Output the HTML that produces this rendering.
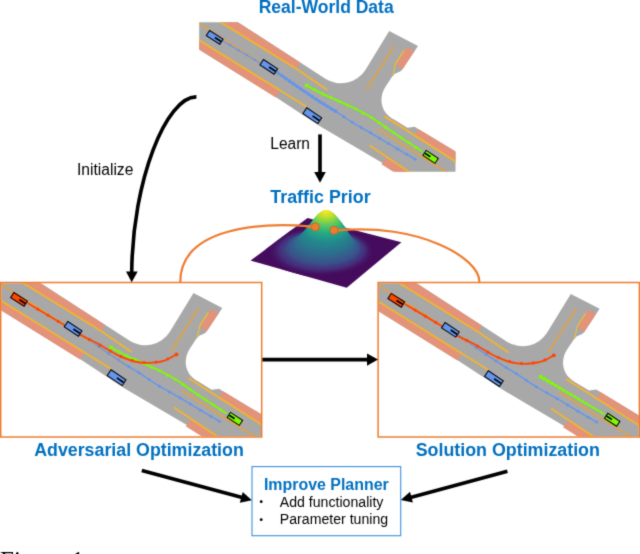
<!DOCTYPE html>
<html><head><meta charset="utf-8"><title>Figure</title>
<style>
html,body{margin:0;padding:0;background:#fff;}
body{width:640px;height:554px;overflow:hidden;font-family:"Liberation Sans",sans-serif;}
svg{display:block;}
</style></head>
<body>
<svg width="640" height="554" viewBox="0 0 640 554">
<defs>
<filter id="bl" x="0" y="0" width="640" height="554" filterUnits="userSpaceOnUse" color-interpolation-filters="sRGB"><feConvolveMatrix order="3" kernelMatrix="0.0367 0.1915 0.0367 0.1915 1.0000 0.1915 0.0367 0.1915 0.0367" divisor="1.9127" edgeMode="duplicate" preserveAlpha="true"/></filter>
<g id="mb"><path d="M190,-9 L325.8,79 A29,29 0 0 0 365.4,69.9 L389.2,31.1 L418,45.9 L402.5,69.3 L400.6,71.2 L394.9,73.7 L392.4,76.3 L385.8,86.2 C378.8,96.5 379.2,111.8 394.5,119.8 L407.4,127.7 L414.7,126.7 L418.3,128.9 L470,160.1 L470,218.2 L382.5,163.1 L320,126.2 L276,97.3 L190,44 Z" fill="#a8a8a8"/>
<path d="M200.6,9.4 L216.8,9 L300.5,62.8 L296.7,69.1 Z" fill="#e2937a"/>
<path d="M190,34.5 L280.2,90.6 L275.8,97.5 L190,44 Z" fill="#e2937a"/>
<path d="M418.3,128.9 L470,160.1 L470,170.5 L415,135.3 Z" fill="#e2937a"/>
<path d="M386.5,157.8 L438,190 L422.2,190 L381.4,164.3 Z" fill="#e2937a"/>
<path d="M406.3,46.9 L414.5,51 L402.5,69.3 L396.1,64.9 Z" fill="#e2937a"/>
<path d="M200.6,9.4 L220.8,22.2 L296.7,69.1 L327.3,89.9" fill="none" stroke="#f2b42e" stroke-width="1.8"/>
<path d="M190,34.5 L199.2,40.2 L280.2,90.6 L306.8,107" fill="none" stroke="#f2b42e" stroke-width="1.8"/>
<path d="M384.3,116.2 L455.6,161.4 L470,170.5" fill="none" stroke="#f2b42e" stroke-width="1.8"/>
<path d="M369.6,145.6 L408.9,171.8 L438,190" fill="none" stroke="#f2b42e" stroke-width="1.8"/>
<path d="M404.1,50.3 L395.5,63.6 L393,75.6" fill="none" stroke="#e9bf36" stroke-width="1.2"/>
<path d="M190,17.8 L199.2,23.7 L322,102.5" fill="none" stroke="#dfa245" stroke-width="1.7"/>
<path d="M377.5,128.8 L446,171.7 L470,186.7" fill="none" stroke="#dfa245" stroke-width="1.7"/>
<path d="M394.5,45.9 L366.6,89.5" fill="none" stroke="#dfa245" stroke-width="1.7"/></g>
<clipPath id="ct"><rect x="199.2" y="22.2" width="256.30" height="149.50"/></clipPath>
<clipPath id="cl"><rect x="197.1" y="21.19999999999999" width="259.60" height="153.10"/></clipPath>
<clipPath id="cr"><rect x="197.20000000000002" y="20.30000000000001" width="259.90" height="153.10"/></clipPath>
</defs>
<g filter="url(#bl)"><rect x="-5" y="-5" width="650" height="564" fill="#fff"/>
<g clip-path="url(#ct)"><use href="#mb"/><path d="M222.5,40.7 L260.0,63.0" fill="none" stroke="#6495ed" stroke-width="1.1"/>
<circle cx="230.2" cy="45.3" r="1.2" fill="#6495ed"/><circle cx="238.4" cy="50.2" r="1.2" fill="#6495ed"/><circle cx="246.6" cy="55.0" r="1.2" fill="#6495ed"/><circle cx="254.7" cy="59.9" r="1.2" fill="#6495ed"/>
<path d="M276.5,72.0 C280.1,74.5 290.6,82.0 297.9,87.0 C305.1,92.0 313.6,97.7 320.0,101.8 C326.4,105.9 333.3,110.0 336.0,111.6" fill="none" stroke="#6495ed" stroke-width="2.3"/>
<circle cx="278.1" cy="73.1" r="1.75" fill="#6495ed"/><circle cx="281.9" cy="75.8" r="1.75" fill="#6495ed"/><circle cx="285.7" cy="78.4" r="1.75" fill="#6495ed"/><circle cx="289.4" cy="81.1" r="1.75" fill="#6495ed"/><circle cx="293.2" cy="83.7" r="1.75" fill="#6495ed"/><circle cx="297.0" cy="86.3" r="1.75" fill="#6495ed"/><circle cx="300.8" cy="88.9" r="1.75" fill="#6495ed"/><circle cx="304.6" cy="91.5" r="1.75" fill="#6495ed"/><circle cx="308.4" cy="94.0" r="1.75" fill="#6495ed"/><circle cx="312.2" cy="96.6" r="1.75" fill="#6495ed"/><circle cx="316.1" cy="99.2" r="1.75" fill="#6495ed"/><circle cx="319.9" cy="101.7" r="1.75" fill="#6495ed"/><circle cx="323.8" cy="104.1" r="1.75" fill="#6495ed"/><circle cx="327.7" cy="106.5" r="1.75" fill="#6495ed"/><circle cx="331.7" cy="108.9" r="1.75" fill="#6495ed"/><circle cx="335.6" cy="111.3" r="1.75" fill="#6495ed"/>
<path d="M276.5,72.0 C280.1,74.5 290.6,82.0 297.9,87.0 C305.1,92.0 313.7,97.7 320.0,101.8 C326.3,105.9 330.0,107.8 335.7,111.4 C341.4,115.0 347.6,119.6 354.2,123.6 C360.8,127.6 368.5,131.6 375.3,135.6 C382.1,139.6 388.2,143.5 394.8,147.4 C401.4,151.3 411.7,157.2 415.1,159.2" fill="none" stroke="#6495ed" stroke-width="1.4"/>
<circle cx="334.7" cy="110.8" r="1.5" fill="#6495ed"/><circle cx="343.5" cy="116.6" r="1.5" fill="#6495ed"/><circle cx="352.3" cy="122.3" r="1.5" fill="#6495ed"/><circle cx="361.3" cy="127.7" r="1.5" fill="#6495ed"/><circle cx="370.5" cy="132.8" r="1.5" fill="#6495ed"/><circle cx="379.5" cy="138.2" r="1.5" fill="#6495ed"/><circle cx="388.5" cy="143.6" r="1.5" fill="#6495ed"/><circle cx="397.5" cy="149.0" r="1.5" fill="#6495ed"/><circle cx="406.6" cy="154.3" r="1.5" fill="#6495ed"/><circle cx="415.1" cy="159.2" r="1.5" fill="#6495ed"/>
<path d="M306.8,85.5 C309.0,86.7 315.1,90.2 320.0,92.6 C324.9,95.0 330.5,97.4 336.4,100.1 C342.3,102.8 349.5,105.8 355.4,108.8 C361.3,111.8 366.8,114.7 371.8,117.8 C376.9,120.9 381.0,124.1 385.7,127.3 C390.4,130.5 393.9,132.9 400.0,137.0 C406.1,141.1 418.8,149.2 422.6,151.7" fill="none" stroke="#7cfc00" stroke-width="1.8"/>
<circle cx="306.8" cy="85.5" r="1.55" fill="#7cfc00"/><circle cx="314.7" cy="89.8" r="1.55" fill="#7cfc00"/><circle cx="322.7" cy="93.9" r="1.55" fill="#7cfc00"/><circle cx="330.9" cy="97.6" r="1.55" fill="#7cfc00"/><circle cx="339.1" cy="101.3" r="1.55" fill="#7cfc00"/><circle cx="347.3" cy="105.1" r="1.55" fill="#7cfc00"/><circle cx="355.5" cy="108.8" r="1.55" fill="#7cfc00"/><circle cx="363.4" cy="113.2" r="1.55" fill="#7cfc00"/><circle cx="371.3" cy="117.5" r="1.55" fill="#7cfc00"/><circle cx="378.7" cy="122.5" r="1.55" fill="#7cfc00"/><circle cx="386.1" cy="127.6" r="1.55" fill="#7cfc00"/><circle cx="393.6" cy="132.7" r="1.55" fill="#7cfc00"/><circle cx="401.1" cy="137.7" r="1.55" fill="#7cfc00"/><circle cx="408.6" cy="142.6" r="1.55" fill="#7cfc00"/><circle cx="416.1" cy="147.5" r="1.55" fill="#7cfc00"/>
<circle cx="306.8" cy="85.5" r="2.0" fill="#7cfc00"/>
<g transform="translate(214.7,37.4) rotate(32.5)"><rect x="-8.00" y="-3.10" width="16" height="6.2" fill="#6495ed" stroke="#000" stroke-width="1"/><path d="M0.3,0 H7.50" stroke="#000" stroke-width="1.7"/></g>
<g transform="translate(268.8,66.9) rotate(33.5)"><rect x="-8.50" y="-3.20" width="17" height="6.4" fill="#6495ed" stroke="#000" stroke-width="1"/><path d="M0.3,0 H8.00" stroke="#000" stroke-width="1.7"/></g>
<g transform="translate(312.3,115.7) rotate(34)"><rect x="-9.00" y="-3.45" width="18" height="6.9" fill="#6495ed" stroke="#000" stroke-width="1"/><path d="M0.3,0 H8.50" stroke="#000" stroke-width="1.7"/></g>
<g transform="translate(430.6,156.9) rotate(213.5)"><rect x="-7.25" y="-3.00" width="14.5" height="6.0" fill="#7cfc00" stroke="#000" stroke-width="1"/><path d="M0.3,0 H6.75" stroke="#000" stroke-width="1.7"/></g></g>
<g transform="translate(-195.7,262.0)"><g clip-path="url(#cl)"><use href="#mb"/><path d="M276.5,72.0 C280.1,74.5 290.6,82.0 297.9,87.0 C305.1,92.0 313.7,97.7 320.0,101.8 C326.3,105.9 330.0,107.8 335.7,111.4 C341.4,115.0 347.6,119.6 354.2,123.6 C360.8,127.6 368.5,131.6 375.3,135.6 C382.1,139.6 388.2,143.5 394.8,147.4 C401.4,151.3 411.7,157.2 415.1,159.2" fill="none" stroke="#6495ed" stroke-width="1.4"/>
<circle cx="284.7" cy="77.7" r="1.5" fill="#6495ed"/><circle cx="294.5" cy="84.6" r="1.5" fill="#6495ed"/><circle cx="304.4" cy="91.4" r="1.5" fill="#6495ed"/><circle cx="314.4" cy="98.1" r="1.5" fill="#6495ed"/><circle cx="324.5" cy="104.5" r="1.5" fill="#6495ed"/><circle cx="334.7" cy="110.8" r="1.5" fill="#6495ed"/><circle cx="344.8" cy="117.4" r="1.5" fill="#6495ed"/><circle cx="354.8" cy="123.9" r="1.5" fill="#6495ed"/><circle cx="365.2" cy="129.9" r="1.5" fill="#6495ed"/><circle cx="375.7" cy="135.8" r="1.5" fill="#6495ed"/><circle cx="385.9" cy="142.0" r="1.5" fill="#6495ed"/><circle cx="396.2" cy="148.2" r="1.5" fill="#6495ed"/><circle cx="406.6" cy="154.3" r="1.5" fill="#6495ed"/><circle cx="415.1" cy="159.2" r="1.5" fill="#6495ed"/>
<path d="M306.8,85.5 C309.0,86.7 315.1,90.2 320.0,92.6 C324.9,95.0 330.5,97.4 336.4,100.1 C342.3,102.8 349.5,105.8 355.4,108.8 C361.3,111.8 366.8,114.7 371.8,117.8 C376.9,120.9 381.0,124.1 385.7,127.3 C390.4,130.5 393.9,132.9 400.0,137.0 C406.1,141.1 418.8,149.2 422.6,151.7" fill="none" stroke="#7cfc00" stroke-width="1.8"/>
<circle cx="306.8" cy="85.5" r="1.55" fill="#7cfc00"/><circle cx="314.7" cy="89.8" r="1.55" fill="#7cfc00"/><circle cx="322.7" cy="93.9" r="1.55" fill="#7cfc00"/><circle cx="330.9" cy="97.6" r="1.55" fill="#7cfc00"/><circle cx="339.1" cy="101.3" r="1.55" fill="#7cfc00"/><circle cx="347.3" cy="105.1" r="1.55" fill="#7cfc00"/><circle cx="355.5" cy="108.8" r="1.55" fill="#7cfc00"/><circle cx="363.4" cy="113.2" r="1.55" fill="#7cfc00"/><circle cx="371.3" cy="117.5" r="1.55" fill="#7cfc00"/><circle cx="378.7" cy="122.5" r="1.55" fill="#7cfc00"/><circle cx="386.1" cy="127.6" r="1.55" fill="#7cfc00"/><circle cx="393.6" cy="132.7" r="1.55" fill="#7cfc00"/><circle cx="401.1" cy="137.7" r="1.55" fill="#7cfc00"/><circle cx="408.6" cy="142.6" r="1.55" fill="#7cfc00"/><circle cx="416.1" cy="147.5" r="1.55" fill="#7cfc00"/>
<circle cx="306.8" cy="85.5" r="2.0" fill="#7cfc00"/>
<path d="M223.2,41.0 C229.3,44.7 250.9,57.5 260.0,63.0 C269.1,68.5 272.4,70.8 277.7,73.8 C283.0,76.8 286.2,77.6 292.0,80.8 C297.8,84.0 307.2,90.1 312.7,92.9 C318.2,95.8 321.0,96.6 324.8,97.9 C328.6,99.2 331.7,100.0 335.7,100.5 C339.7,101.0 344.6,101.0 348.8,100.6 C353.0,100.2 357.0,99.7 360.9,98.3 C364.8,96.9 370.3,93.4 372.2,92.4" fill="none" stroke="#ff4500" stroke-width="1.8"/>
<circle cx="233.5" cy="47.2" r="1.6" fill="#ff4500"/><circle cx="243.8" cy="53.3" r="1.6" fill="#ff4500"/><circle cx="254.1" cy="59.5" r="1.6" fill="#ff4500"/><circle cx="264.4" cy="65.7" r="1.6" fill="#ff4500"/><circle cx="274.6" cy="71.9" r="1.6" fill="#ff4500"/><circle cx="285.2" cy="77.5" r="1.6" fill="#ff4500"/><circle cx="295.9" cy="83.1" r="1.6" fill="#ff4500"/><circle cx="306.2" cy="89.1" r="1.6" fill="#ff4500"/><circle cx="316.9" cy="94.6" r="1.6" fill="#ff4500"/><circle cx="328.1" cy="98.7" r="1.6" fill="#ff4500"/><circle cx="339.9" cy="100.5" r="1.6" fill="#ff4500"/><circle cx="351.8" cy="100.0" r="1.6" fill="#ff4500"/><circle cx="363.4" cy="97.0" r="1.6" fill="#ff4500"/>
<circle cx="372.2" cy="92.4" r="1.9" fill="#ff4500"/>
<g transform="translate(214.7,37.4) rotate(32.5)"><rect x="-8.00" y="-3.10" width="16" height="6.2" fill="#ff4500" stroke="#000" stroke-width="1"/><path d="M0.3,0 H7.50" stroke="#000" stroke-width="1.7"/></g>
<g transform="translate(268.8,66.9) rotate(33.5)"><rect x="-8.50" y="-3.20" width="17" height="6.4" fill="#6495ed" stroke="#000" stroke-width="1"/><path d="M0.3,0 H8.00" stroke="#000" stroke-width="1.7"/></g>
<g transform="translate(312.3,115.7) rotate(34)"><rect x="-9.00" y="-3.45" width="18" height="6.9" fill="#6495ed" stroke="#000" stroke-width="1"/><path d="M0.3,0 H8.50" stroke="#000" stroke-width="1.7"/></g>
<g transform="translate(430.6,156.9) rotate(213.5)"><rect x="-7.25" y="-3.00" width="14.5" height="6.0" fill="#7cfc00" stroke="#000" stroke-width="1"/><path d="M0.3,0 H6.75" stroke="#000" stroke-width="1.7"/></g></g></g>
<g transform="translate(181.6,262.9)"><g clip-path="url(#cr)"><use href="#mb"/><path d="M276.5,72.0 C280.1,74.5 290.6,82.0 297.9,87.0 C305.1,92.0 313.7,97.7 320.0,101.8 C326.3,105.9 330.0,107.8 335.7,111.4 C341.4,115.0 347.6,119.6 354.2,123.6 C360.8,127.6 368.5,131.6 375.3,135.6 C382.1,139.6 388.2,143.5 394.8,147.4 C401.4,151.3 411.7,157.2 415.1,159.2" fill="none" stroke="#6495ed" stroke-width="1.4"/>
<circle cx="284.7" cy="77.7" r="1.5" fill="#6495ed"/><circle cx="294.5" cy="84.6" r="1.5" fill="#6495ed"/><circle cx="304.4" cy="91.4" r="1.5" fill="#6495ed"/><circle cx="314.4" cy="98.1" r="1.5" fill="#6495ed"/><circle cx="324.5" cy="104.5" r="1.5" fill="#6495ed"/><circle cx="334.7" cy="110.8" r="1.5" fill="#6495ed"/><circle cx="344.8" cy="117.4" r="1.5" fill="#6495ed"/><circle cx="354.8" cy="123.9" r="1.5" fill="#6495ed"/><circle cx="365.2" cy="129.9" r="1.5" fill="#6495ed"/><circle cx="375.7" cy="135.8" r="1.5" fill="#6495ed"/><circle cx="385.9" cy="142.0" r="1.5" fill="#6495ed"/><circle cx="396.2" cy="148.2" r="1.5" fill="#6495ed"/><circle cx="406.6" cy="154.3" r="1.5" fill="#6495ed"/><circle cx="415.1" cy="159.2" r="1.5" fill="#6495ed"/>
<path d="M359.0,113.8 L423.2,151.6" fill="none" stroke="#7cfc00" stroke-width="1.9"/>
<circle cx="359.0" cy="113.8" r="1.95" fill="#7cfc00"/>
<circle cx="362.8" cy="116.0" r="1.89" fill="#7cfc00"/>
<circle cx="366.6" cy="118.3" r="1.84" fill="#7cfc00"/>
<circle cx="370.4" cy="120.5" r="1.78" fill="#7cfc00"/>
<circle cx="374.2" cy="122.7" r="1.72" fill="#7cfc00"/>
<circle cx="378.0" cy="125.0" r="1.67" fill="#7cfc00"/>
<circle cx="381.7" cy="127.2" r="1.61" fill="#7cfc00"/>
<circle cx="385.5" cy="129.4" r="1.56" fill="#7cfc00"/>
<circle cx="389.3" cy="131.7" r="1.50" fill="#7cfc00"/>
<circle cx="393.1" cy="133.9" r="1.44" fill="#7cfc00"/>
<circle cx="396.9" cy="136.1" r="1.39" fill="#7cfc00"/>
<circle cx="400.7" cy="138.4" r="1.33" fill="#7cfc00"/>
<circle cx="404.5" cy="140.6" r="1.27" fill="#7cfc00"/>
<circle cx="408.3" cy="142.8" r="1.22" fill="#7cfc00"/>
<circle cx="412.1" cy="145.1" r="1.16" fill="#7cfc00"/>
<circle cx="415.9" cy="147.3" r="1.11" fill="#7cfc00"/>
<circle cx="419.7" cy="149.5" r="1.05" fill="#7cfc00"/>
<path d="M223.2,41.0 C229.3,44.7 250.9,57.5 260.0,63.0 C269.1,68.5 272.4,70.8 277.7,73.8 C283.0,76.8 286.2,77.6 292.0,80.8 C297.8,84.0 307.2,90.1 312.7,92.9 C318.2,95.8 321.0,96.6 324.8,97.9 C328.6,99.2 331.7,100.0 335.7,100.5 C339.7,101.0 344.6,101.0 348.8,100.6 C353.0,100.2 357.0,99.7 360.9,98.3 C364.8,96.9 370.3,93.4 372.2,92.4" fill="none" stroke="#ff4500" stroke-width="1.8"/>
<circle cx="233.5" cy="47.2" r="1.6" fill="#ff4500"/><circle cx="243.8" cy="53.3" r="1.6" fill="#ff4500"/><circle cx="254.1" cy="59.5" r="1.6" fill="#ff4500"/><circle cx="264.4" cy="65.7" r="1.6" fill="#ff4500"/><circle cx="274.6" cy="71.9" r="1.6" fill="#ff4500"/><circle cx="285.2" cy="77.5" r="1.6" fill="#ff4500"/><circle cx="295.9" cy="83.1" r="1.6" fill="#ff4500"/><circle cx="306.2" cy="89.1" r="1.6" fill="#ff4500"/><circle cx="316.9" cy="94.6" r="1.6" fill="#ff4500"/><circle cx="328.1" cy="98.7" r="1.6" fill="#ff4500"/><circle cx="339.9" cy="100.5" r="1.6" fill="#ff4500"/><circle cx="351.8" cy="100.0" r="1.6" fill="#ff4500"/><circle cx="363.4" cy="97.0" r="1.6" fill="#ff4500"/>
<circle cx="372.2" cy="92.4" r="1.9" fill="#ff4500"/>
<g transform="translate(214.7,37.4) rotate(32.5)"><rect x="-8.00" y="-3.10" width="16" height="6.2" fill="#ff4500" stroke="#000" stroke-width="1"/><path d="M0.3,0 H7.50" stroke="#000" stroke-width="1.7"/></g>
<g transform="translate(268.8,66.9) rotate(33.5)"><rect x="-8.50" y="-3.20" width="17" height="6.4" fill="#6495ed" stroke="#000" stroke-width="1"/><path d="M0.3,0 H8.00" stroke="#000" stroke-width="1.7"/></g>
<g transform="translate(312.3,115.7) rotate(34)"><rect x="-9.00" y="-3.45" width="18" height="6.9" fill="#6495ed" stroke="#000" stroke-width="1"/><path d="M0.3,0 H8.50" stroke="#000" stroke-width="1.7"/></g>
<g transform="translate(430.6,156.9) rotate(213.5)"><rect x="-7.25" y="-3.00" width="14.5" height="6.0" fill="#7cfc00" stroke="#000" stroke-width="1"/><path d="M0.3,0 H6.75" stroke="#000" stroke-width="1.7"/></g></g></g>
<rect x="0.7" y="282.5" width="261.0" height="154.5" fill="none" stroke="#ed7d31" stroke-width="1.5"/>
<rect x="378.1" y="282.5" width="261.3" height="154.5" fill="none" stroke="#ed7d31" stroke-width="1.5"/>
<path d="M250.6,260.6 L307.5,218.0 L401.4,242.2 L346.7,287.8 Z" fill="rgb(69, 11, 93)"/>
<clipPath id="cq"><path d="M250.6,260.6 L307.5,218.0 L401.4,242.2 L346.7,287.8 Z"/></clipPath>
<g clip-path="url(#cq)"><circle r="1.0030" fill="rgb(69, 11, 93)" transform="matrix(27.9,-22.05,47.5,12.85,321.03,251.28)"/></g>
<g clip-path="url(#cq)"><circle r="0.9184" fill="rgb(69, 18, 99)" transform="matrix(27.9,-22.05,47.5,12.85,321.23,251.08)"/></g>
<g clip-path="url(#cq)"><circle r="0.8739" fill="rgb(70, 24, 104)" transform="matrix(27.9,-22.05,47.5,12.85,321.43,250.88)"/></g>
<g clip-path="url(#cq)"><circle r="0.8431" fill="rgb(70, 30, 110)" transform="matrix(27.9,-22.05,47.5,12.85,321.63,250.68)"/></g>
<g clip-path="url(#cq)"><circle r="0.8194" fill="rgb(70, 36, 115)" transform="matrix(27.9,-22.05,47.5,12.85,321.82,250.49)"/></g>
<g clip-path="url(#cq)"><circle r="0.8001" fill="rgb(71, 42, 121)" transform="matrix(27.9,-22.05,47.5,12.85,322.02,250.29)"/></g>
<g clip-path="url(#cq)"><circle r="0.7832" fill="rgb(70, 47, 123)" transform="matrix(27.9,-22.05,47.5,12.85,322.17,250.09)"/></g>
<g clip-path="url(#cq)"><circle r="0.7680" fill="rgb(69, 49, 124)" transform="matrix(27.9,-22.05,47.5,12.85,322.26,249.89)"/></g>
<g clip-path="url(#cq)"><circle r="0.7544" fill="rgb(69, 52, 125)" transform="matrix(27.9,-22.05,47.5,12.85,322.36,249.69)"/></g>
<g clip-path="url(#cq)"><circle r="0.7421" fill="rgb(68, 54, 127)" transform="matrix(27.9,-22.05,47.5,12.85,322.45,249.50)"/></g>
<g clip-path="url(#cq)"><circle r="0.7309" fill="rgb(67, 57, 128)" transform="matrix(27.9,-22.05,47.5,12.85,322.54,249.30)"/></g>
<g clip-path="url(#cq)"><circle r="0.7206" fill="rgb(66, 59, 129)" transform="matrix(27.9,-22.05,47.5,12.85,322.63,249.10)"/></g>
<g clip-path="url(#cq)"><circle r="0.7110" fill="rgb(65, 61, 130)" transform="matrix(27.9,-22.05,47.5,12.85,322.72,248.90)"/></g>
<g clip-path="url(#cq)"><circle r="0.7021" fill="rgb(65, 64, 131)" transform="matrix(27.9,-22.05,47.5,12.85,322.82,248.71)"/></g>
<circle r="0.6937" fill="rgb(64, 66, 132)" transform="matrix(27.9,-22.05,47.5,12.85,322.91,248.51)"/>
<circle r="0.6858" fill="rgb(63, 69, 133)" transform="matrix(27.9,-22.05,47.5,12.85,323.00,248.31)"/>
<circle r="0.6783" fill="rgb(62, 71, 135)" transform="matrix(27.9,-22.05,47.5,12.85,323.09,248.11)"/>
<circle r="0.6712" fill="rgb(61, 74, 136)" transform="matrix(27.9,-22.05,47.5,12.85,323.18,247.91)"/>
<circle r="0.6644" fill="rgb(61, 76, 137)" transform="matrix(27.9,-22.05,47.5,12.85,323.28,247.72)"/>
<circle r="0.6579" fill="rgb(60, 79, 138)" transform="matrix(27.9,-22.05,47.5,12.85,323.37,247.52)"/>
<circle r="0.6517" fill="rgb(59, 81, 139)" transform="matrix(27.9,-22.05,47.5,12.85,323.45,247.32)"/>
<circle r="0.6453" fill="rgb(58, 82, 139)" transform="matrix(27.9,-22.05,47.5,12.85,323.50,247.12)"/>
<circle r="0.6391" fill="rgb(58, 83, 139)" transform="matrix(27.9,-22.05,47.5,12.85,323.54,246.92)"/>
<circle r="0.6331" fill="rgb(58, 84, 139)" transform="matrix(27.9,-22.05,47.5,12.85,323.58,246.73)"/>
<circle r="0.6274" fill="rgb(57, 85, 139)" transform="matrix(27.9,-22.05,47.5,12.85,323.62,246.53)"/>
<circle r="0.6081" fill="rgb(55, 89, 140)" transform="matrix(27.9,-22.05,47.5,12.85,323.77,245.82)"/>
<circle r="0.5906" fill="rgb(54, 92, 140)" transform="matrix(27.9,-22.05,47.5,12.85,323.93,245.11)"/>
<circle r="0.5746" fill="rgb(52, 96, 140)" transform="matrix(27.9,-22.05,47.5,12.85,324.08,244.40)"/>
<circle r="0.5597" fill="rgb(51, 99, 141)" transform="matrix(27.9,-22.05,47.5,12.85,324.23,243.69)"/>
<circle r="0.5457" fill="rgb(49, 103, 141)" transform="matrix(27.9,-22.05,47.5,12.85,324.38,242.98)"/>
<circle r="0.5325" fill="rgb(47, 106, 141)" transform="matrix(27.9,-22.05,47.5,12.85,324.53,242.27)"/>
<circle r="0.5199" fill="rgb(46, 109, 142)" transform="matrix(27.9,-22.05,47.5,12.85,324.67,241.55)"/>
<circle r="0.5077" fill="rgb(45, 112, 142)" transform="matrix(27.9,-22.05,47.5,12.85,324.78,240.84)"/>
<circle r="0.4959" fill="rgb(44, 114, 142)" transform="matrix(27.9,-22.05,47.5,12.85,324.88,240.13)"/>
<circle r="0.4845" fill="rgb(43, 116, 142)" transform="matrix(27.9,-22.05,47.5,12.85,324.98,239.42)"/>
<circle r="0.4736" fill="rgb(42, 119, 142)" transform="matrix(27.9,-22.05,47.5,12.85,325.08,238.71)"/>
<circle r="0.4630" fill="rgb(41, 121, 142)" transform="matrix(27.9,-22.05,47.5,12.85,325.18,238.00)"/>
<circle r="0.4526" fill="rgb(40, 123, 142)" transform="matrix(27.9,-22.05,47.5,12.85,325.28,237.29)"/>
<circle r="0.4426" fill="rgb(40, 126, 142)" transform="matrix(27.9,-22.05,47.5,12.85,325.38,236.58)"/>
<circle r="0.4327" fill="rgb(39, 128, 142)" transform="matrix(27.9,-22.05,47.5,12.85,325.48,235.87)"/>
<circle r="0.4231" fill="rgb(38, 130, 141)" transform="matrix(27.9,-22.05,47.5,12.85,325.58,235.16)"/>
<circle r="0.4136" fill="rgb(37, 132, 141)" transform="matrix(27.9,-22.05,47.5,12.85,325.68,234.45)"/>
<circle r="0.4043" fill="rgb(36, 135, 141)" transform="matrix(27.9,-22.05,47.5,12.85,325.78,233.74)"/>
<circle r="0.3951" fill="rgb(35, 137, 141)" transform="matrix(27.9,-22.05,47.5,12.85,325.89,233.03)"/>
<circle r="0.3863" fill="rgb(34, 141, 141)" transform="matrix(27.9,-22.05,47.5,12.85,326.05,232.32)"/>
<circle r="0.3776" fill="rgb(33, 144, 141)" transform="matrix(27.9,-22.05,47.5,12.85,326.20,231.61)"/>
<circle r="0.3682" fill="rgb(34, 147, 140)" transform="matrix(27.9,-22.05,47.5,12.85,326.20,230.90)"/>
<circle r="0.3589" fill="rgb(34, 150, 138)" transform="matrix(27.9,-22.05,47.5,12.85,326.20,230.19)"/>
<circle r="0.3497" fill="rgb(35, 154, 137)" transform="matrix(27.9,-22.05,47.5,12.85,326.20,229.48)"/>
<circle r="0.3405" fill="rgb(36, 157, 136)" transform="matrix(27.9,-22.05,47.5,12.85,326.20,228.77)"/>
<circle r="0.3314" fill="rgb(36, 160, 134)" transform="matrix(27.9,-22.05,47.5,12.85,326.20,228.06)"/>
<circle r="0.3223" fill="rgb(37, 163, 133)" transform="matrix(27.9,-22.05,47.5,12.85,326.20,227.34)"/>
<circle r="0.3132" fill="rgb(38, 167, 131)" transform="matrix(27.9,-22.05,47.5,12.85,326.20,226.63)"/>
<circle r="0.3041" fill="rgb(39, 171, 130)" transform="matrix(27.9,-22.05,47.5,12.85,326.20,225.92)"/>
<circle r="0.2950" fill="rgb(42, 174, 128)" transform="matrix(27.9,-22.05,47.5,12.85,326.20,225.21)"/>
<circle r="0.2858" fill="rgb(48, 178, 124)" transform="matrix(27.9,-22.05,47.5,12.85,326.20,224.50)"/>
<circle r="0.2766" fill="rgb(55, 181, 120)" transform="matrix(27.9,-22.05,47.5,12.85,326.20,223.79)"/>
<circle r="0.2674" fill="rgb(62, 185, 116)" transform="matrix(27.9,-22.05,47.5,12.85,326.20,223.08)"/>
<circle r="0.2580" fill="rgb(69, 188, 112)" transform="matrix(27.9,-22.05,47.5,12.85,326.20,222.37)"/>
<circle r="0.2485" fill="rgb(76, 192, 108)" transform="matrix(27.9,-22.05,47.5,12.85,326.20,221.66)"/>
<circle r="0.2389" fill="rgb(84, 196, 104)" transform="matrix(27.9,-22.05,47.5,12.85,326.20,220.95)"/>
<circle r="0.2292" fill="rgb(91, 199, 100)" transform="matrix(27.9,-22.05,47.5,12.85,326.20,220.24)"/>
<circle r="0.2192" fill="rgb(101, 202, 93)" transform="matrix(27.9,-22.05,47.5,12.85,326.20,219.53)"/>
<circle r="0.2090" fill="rgb(112, 205, 86)" transform="matrix(27.9,-22.05,47.5,12.85,326.20,218.82)"/>
<circle r="0.1985" fill="rgb(123, 208, 79)" transform="matrix(27.9,-22.05,47.5,12.85,326.20,218.11)"/>
<circle r="0.1876" fill="rgb(135, 211, 72)" transform="matrix(27.9,-22.05,47.5,12.85,326.20,217.40)"/>
<circle r="0.1763" fill="rgb(146, 214, 65)" transform="matrix(27.9,-22.05,47.5,12.85,326.20,216.69)"/>
<circle r="0.1645" fill="rgb(158, 217, 57)" transform="matrix(27.9,-22.05,47.5,12.85,326.20,215.98)"/>
<circle r="0.1521" fill="rgb(170, 220, 50)" transform="matrix(27.9,-22.05,47.5,12.85,326.20,215.27)"/>
<circle r="0.1388" fill="rgb(183, 222, 48)" transform="matrix(27.9,-22.05,47.5,12.85,326.20,214.56)"/>
<circle r="0.1244" fill="rgb(196, 223, 46)" transform="matrix(27.9,-22.05,47.5,12.85,326.20,213.84)"/>
<circle r="0.1084" fill="rgb(208, 225, 44)" transform="matrix(27.9,-22.05,47.5,12.85,326.20,213.13)"/>
<circle r="0.0900" fill="rgb(222, 227, 42)" transform="matrix(27.9,-22.05,47.5,12.85,326.20,212.42)"/>
<circle r="0.0672" fill="rgb(236, 229, 40)" transform="matrix(27.9,-22.05,47.5,12.85,326.20,211.71)"/>
<circle r="0.0315" fill="rgb(249, 230, 38)" transform="matrix(27.9,-22.05,47.5,12.85,326.20,211.00)"/>
<path d="M180.3,282 C180,234 244.3,220.7 311,226.5" fill="none" stroke="#ed7d31" stroke-width="2.2"/>
<path d="M479.3,282 C480.3,257.8 417.4,222.6 338,230.4" fill="none" stroke="#ed7d31" stroke-width="2.2"/>
<path d="M296,225.2 L312,225 L312,228.4 Z" fill="#ed7d31"/>
<path d="M352,228.4 L337,228.8 L337,231.8 Z" fill="#ed7d31"/>
<circle cx="315.3" cy="226.9" r="4" fill="#ed7d31" stroke="#c8641e" stroke-width="0.8"/>
<circle cx="334" cy="230.3" r="4" fill="#ed7d31" stroke="#c8641e" stroke-width="0.8"/>
<path d="M320,134.4 V173" stroke="#000" stroke-width="3.6" fill="none"/>
<path d="M314.2,171.9 H325.8 L320,182.8 Z" fill="#000"/>
<path d="M196.4,96.9 C166.6,96.4 132.4,179.7 131.7,273" stroke="#000" stroke-width="3.6" fill="none"/>
<path d="M126,271.5 H137.7 L131.7,282.2 Z" fill="#000"/>
<path d="M262.4,359.6 H368" stroke="#000" stroke-width="3.8" fill="none"/>
<path d="M367,353.6 V365.7 L378,359.6 Z" fill="#000"/>
<path d="M141.8,470.6 L242.2,497.6" stroke="#000" stroke-width="3.6" fill="none"/><path d="M239.8,502.7 L242.7,492.0 L251.9,500.2 Z" fill="#000"/>
<path d="M507.4,471.2 L410.5,497.4" stroke="#000" stroke-width="3.6" fill="none"/><path d="M410.0,491.8 L412.9,502.4 L400.8,500.0 Z" fill="#000"/>
<rect x="252" y="466.6" width="148.7" height="69.1" fill="#fff" stroke="#3d8fdf" stroke-width="1.1"/>
<circle cx="261.2" cy="501.7" r="1.4" fill="#000"/><circle cx="261.2" cy="519.7" r="1.4" fill="#000"/>
<text x="258.7" y="12.6" font-family="Liberation Sans, sans-serif" font-size="17.6" font-weight="bold" fill="#0070c0" text-anchor="start" textLength="135" lengthAdjust="spacingAndGlyphs">Real-World Data</text>
<text x="270.3" y="202.8" font-family="Liberation Sans, sans-serif" font-size="17.6" font-weight="bold" fill="#0070c0" text-anchor="start" textLength="100.3" lengthAdjust="spacingAndGlyphs">Traffic Prior</text>
<text x="34.2" y="455.9" font-family="Liberation Sans, sans-serif" font-size="17.6" font-weight="bold" fill="#0070c0" text-anchor="start" textLength="209.6" lengthAdjust="spacingAndGlyphs">Adversarial Optimization</text>
<text x="415.7" y="455.9" font-family="Liberation Sans, sans-serif" font-size="17.6" font-weight="bold" fill="#0070c0" text-anchor="start" textLength="184.2" lengthAdjust="spacingAndGlyphs">Solution Optimization</text>
<text x="263.9" y="489.7" font-family="Liberation Sans, sans-serif" font-size="16" font-weight="bold" fill="#0070c0" text-anchor="start" textLength="124.8" lengthAdjust="spacingAndGlyphs">Improve Planner</text>
<text x="279.8" y="506.5" font-family="Liberation Sans, sans-serif" font-size="14" fill="#000" text-anchor="start" textLength="103.6" lengthAdjust="spacingAndGlyphs">Add functionality</text>
<text x="279.8" y="524.3" font-family="Liberation Sans, sans-serif" font-size="14" fill="#000" text-anchor="start" textLength="108.4" lengthAdjust="spacingAndGlyphs">Parameter tuning</text>
<text x="270.3" y="149" font-family="Liberation Sans, sans-serif" font-size="15.6" fill="#000" text-anchor="start" textLength="39.7" lengthAdjust="spacingAndGlyphs">Learn</text>
<text x="76.9" y="175.3" font-family="Liberation Sans, sans-serif" font-size="15.6" fill="#000" text-anchor="start" textLength="56.5" lengthAdjust="spacingAndGlyphs">Initialize</text>
<text x="0" y="569.3" font-family="Liberation Serif, serif" font-size="25" fill="#000">Figure 1</text>
</g></svg>
</body></html>
